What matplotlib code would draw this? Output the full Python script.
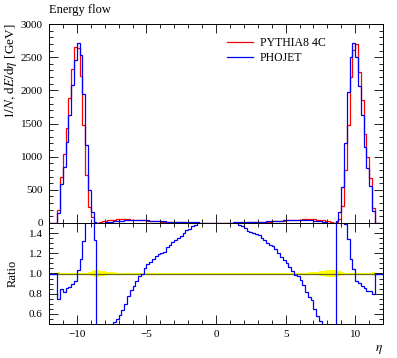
import numpy as np
import matplotlib
matplotlib.use("Agg")
import matplotlib.pyplot as plt
from matplotlib.ticker import MultipleLocator
from matplotlib.lines import Line2D

plt.rcParams["font.family"] = ["Liberation Serif", "DejaVu Serif"]
plt.rcParams["mathtext.fontset"] = "stix"

# ----- Data: 0.2 wide eta bins from -12 to 12 -----
eta_edges = np.round(np.linspace(-12.0, 12.0, 121), 1)

# 1/N dE/deta [GeV], PYTHIA8 4C
pythia = [
    0, 0, 0,
    # left peak, -11.4 .. -8.6
    196, 689, 1036, 1428, 1885, 2325, 2650, 2635, 2220, 1478, 724, 236, 95, 15,
    # central, -8.6 .. 0
    6, 14, 24, 33, 40, 46, 50, 53, 54, 55,
    55, 54, 52, 50, 47, 44, 41, 38, 35, 32,
    29, 26, 23.5, 21, 19, 17, 15, 13.5, 12, 10.5,
    9.5, 8.5, 7.5, 6.8, 6.2, 5.6, 5.1, 4.7, 4.4, 4.2,
    4.0, 3.9, 3.8,
    # central, 0 .. 8.6
    3.8, 3.9, 4.0, 4.2, 4.4, 4.7, 5.1, 5.6, 6.2, 6.8,
    7.5, 8.5, 9.5, 10.5, 12, 13.5, 15, 17, 19, 21,
    23.5, 26, 29, 32, 35, 38, 41, 44, 47, 50,
    52, 54, 55, 55, 54, 53, 50, 46, 40, 33,
    24, 14, 6,
    # right peak, 8.6 .. 11.4
    12, 60, 250, 805, 1478, 2200, 2605, 2697, 2270, 1850, 1340, 1000, 675, 220,
    0, 0, 0,
]

# 1/N dE/deta [GeV], PHOJET
phojet = [
    0, 0, 0,
    147, 583, 849, 1226, 1635, 2085, 2460, 2720, 2535, 1950, 1170, 490, 160, 20,
    1, 3, 5, 9, 14, 21, 26, 29, 32, 35,
    38.5, 42, 43.7, 44, 43.7, 42.7, 41, 39.9, 38.2, 35.8,
    33.1, 30.4, 28, 25.2, 23, 21.4, 19.2, 17.7, 16, 14.2,
    13, 11.9, 10.7, 9.8, 9.1, 8.3, 7.9, 7.5, 7.3, 7.1,
    6.9, 6.8, 6.7,
    6.7, 6.8, 6.9, 7.1, 7.3, 7.5, 8.0, 8.6, 9.2, 10.0,
    10.9, 12.1, 13.4, 14.7, 16.7, 18.6, 20.3, 22.6, 24.7, 26.9,
    29.8, 32.2, 34.8, 37.1, 39.6, 41.8, 43.5, 44.9, 46.5, 49,
    48.4, 48, 45.1, 42.4, 40, 34.5, 29, 24.4, 18, 11.6,
    6, 2.8, 0.9,
    25, 170, 538, 1200, 1980, 2508, 2710, 2508, 2066, 1628, 1150, 830, 560, 175,
    0, 0, 0,
]

# relative uncertainty of the reference (PYTHIA8), yellow band
pythia_relerr = [
    0, 0, 0,
    0.015, 0.008, 0.006, 0.005, 0.004, 0.004, 0.004, 0.004, 0.004, 0.005, 0.007, 0.012, 0.02, 0.03,
    0.035, 0.028, 0.022, 0.018, 0.015, 0.012, 0.01, 0.009, 0.008, 0.007,
    0.006, 0.005, 0.005, 0.004, 0.004, 0.004, 0.004, 0.004, 0.004, 0.004,
    0.004, 0.004, 0.004, 0.004, 0.004, 0.004, 0.004, 0.004, 0.004, 0.004,
    0.004, 0.004, 0.004, 0.004, 0.004, 0.004, 0.004, 0.004, 0.004, 0.004,
    0.004, 0.004, 0.004,
    0.004, 0.004, 0.004, 0.004, 0.004, 0.004, 0.004, 0.004, 0.004, 0.004,
    0.004, 0.004, 0.004, 0.004, 0.004, 0.004, 0.004, 0.004, 0.004, 0.004,
    0.004, 0.004, 0.004, 0.004, 0.004, 0.004, 0.004, 0.005, 0.005, 0.006,
    0.007, 0.008, 0.009, 0.01, 0.012, 0.015, 0.018, 0.022, 0.026, 0.03,
    0.033, 0.036, 0.035,
    0.03, 0.02, 0.012, 0.007, 0.005, 0.004, 0.004, 0.004, 0.004, 0.004, 0.005, 0.006, 0.008, 0.015,
    0, 0, 0,
]

pythia = np.array(pythia, dtype=float)
phojet = np.array(phojet, dtype=float)
relerr = np.array(pythia_relerr, dtype=float)
ratio = np.where(pythia > 0, phojet / np.where(pythia > 0, pythia, 1), 1.0)

RED = "#ff0000"
BLUE = "#0000ff"

fig = plt.figure(figsize=(3.97, 3.58), dpi=100)
W, H = 397.0, 358.0
ax = fig.add_axes([49 / W, 1 - 223 / H, 334 / W, 199 / H])
axr = fig.add_axes([49 / W, 1 - 324 / H, 334 / W, 101 / H], sharex=ax)

# ----- main panel -----
ax.stairs(pythia, eta_edges, color=RED, lw=0.9)
ax.stairs(phojet, eta_edges, color=BLUE, lw=0.9)
ax.set_xlim(-12, 12)
ax.set_ylim(0, 3000)
ax.yaxis.set_major_locator(MultipleLocator(500))
ax.yaxis.set_minor_locator(MultipleLocator(100))
ax.set_ylabel(r"$1/N,\,\mathrm{d}E/\mathrm{d}\eta$ [GeV]", loc="top", fontsize=9.5)
ax.yaxis.set_label_coords(-0.09, 1.0)
ax.tick_params(labelbottom=False)

handles = [Line2D([], [], color=RED, lw=0.9), Line2D([], [], color=BLUE, lw=0.9)]
ax.legend(handles, ["PYTHIA8 4C", "PHOJET"], loc="upper left",
          bbox_to_anchor=(0.533, 0.935), frameon=False, fontsize=8.5,
          borderpad=0, borderaxespad=0, handlelength=2.2,
          handletextpad=0.6, labelspacing=0.3)

fig.text(49 / W, 1 - 12.5 / H, "Energy flow", fontsize=9, ha="left", va="baseline")

# ----- ratio panel -----
axr.stairs(1 + relerr, eta_edges, baseline=1 - relerr, fill=True, color="#ffff00", lw=0)
axr.stairs(np.ones_like(pythia), eta_edges, baseline=None, color="#6b6b14", lw=0.9)
axr.stairs(ratio, eta_edges, baseline=None, color=BLUE, lw=0.9)
axr.set_ylim(0.5, 1.5)
axr.yaxis.set_major_locator(MultipleLocator(0.2))
axr.yaxis.set_minor_locator(MultipleLocator(0.05))
axr.set_ylabel("Ratio", fontsize=9)
axr.yaxis.set_label_coords(-0.09, 0.5)
axr.set_xlabel(r"$\eta$", loc="right", fontsize=9.5, labelpad=3)

for a in (ax, axr):
    a.xaxis.set_major_locator(MultipleLocator(5))
    a.xaxis.set_minor_locator(MultipleLocator(1))
    a.tick_params(which="both", direction="in", top=True, right=True,
                  labelsize=8, width=0.6, pad=4.5)
    a.tick_params(which="major", length=6.5)
    a.tick_params(which="minor", length=3.2)
    for s in a.spines.values():
        s.set_linewidth(0.7)

fig.savefig("out.png", dpi=100)
